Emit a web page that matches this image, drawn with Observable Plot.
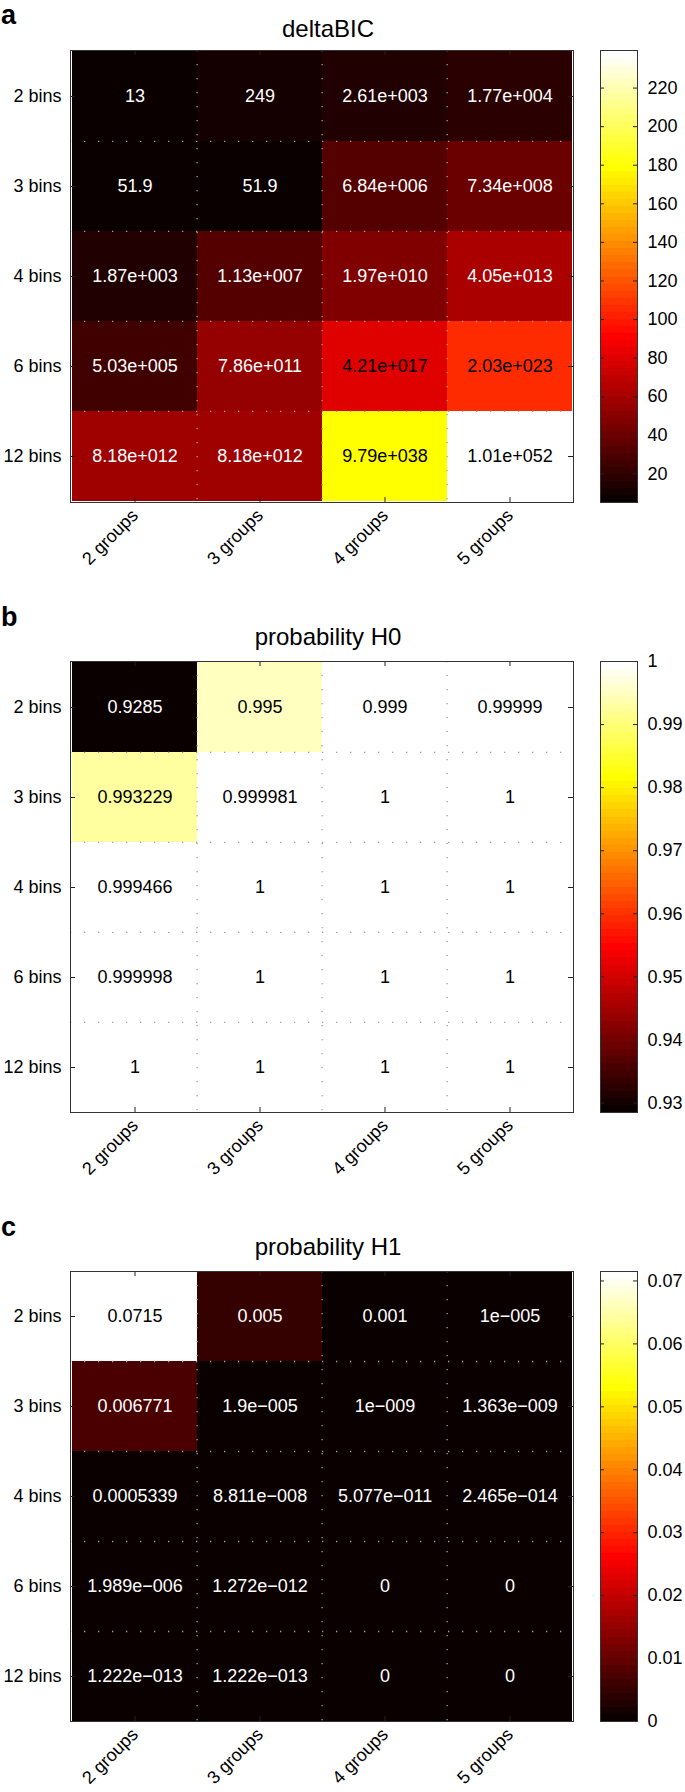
<!DOCTYPE html>
<html><head><meta charset="utf-8">
<script src="https://cdn.jsdelivr.net/npm/d3@7"></script>
<script src="https://cdn.jsdelivr.net/npm/@observablehq/plot@0.6"></script>
<style>
body{margin:0;background:#fff;}
#root{position:relative;width:685px;height:1792px;overflow:hidden;font-family:"Liberation Sans",Arial,Helvetica,sans-serif;color:#000;}
.abs{position:absolute;line-height:1;white-space:nowrap;}
.letter{font-weight:bold;font-size:27px;}
.title{font-size:24px;transform:translateX(-50%);}
svg{position:absolute;}
</style></head><body><div id="root"></div>
<script>
// ---- data ----
const groups = ["2 groups", "3 groups", "4 groups", "5 groups"];
const bins = ["2 bins", "3 bins", "4 bins", "6 bins", "12 bins"];

const deltaBICText = [
  ["13", "249", "2.61e+003", "1.77e+004"],
  ["51.9", "51.9", "6.84e+006", "7.34e+008"],
  ["1.87e+003", "1.13e+007", "1.97e+010", "4.05e+013"],
  ["5.03e+005", "7.86e+011", "4.21e+017", "2.03e+023"],
  ["8.18e+012", "8.18e+012", "9.79e+038", "1.01e+052"]
];
const probH0Text = [
  ["0.9285", "0.995", "0.999", "0.99999"],
  ["0.993229", "0.999981", "1", "1"],
  ["0.999466", "1", "1", "1"],
  ["0.999998", "1", "1", "1"],
  ["1", "1", "1", "1"]
];
const probH1Text = [
  ["0.0715", "0.005", "0.001", "1e-005"],
  ["0.006771", "1.9e-005", "1e-009", "1.363e-009"],
  ["0.0005339", "8.811e-008", "5.077e-011", "2.465e-014"],
  ["1.989e-006", "1.272e-012", "0", "0"],
  ["1.222e-013", "1.222e-013", "0", "0"]
];
const deltaBICTicks = [20, 40, 60, 80, 100, 120, 140, 160, 180, 200, 220];
const probH0Ticks = [0.93, 0.94, 0.95, 0.96, 0.97, 0.98, 0.99, 1];
const probH1Ticks = [0, 0.01, 0.02, 0.03, 0.04, 0.05, 0.06, 0.07];
const panelLetters = ["a", "b", "c"];
const panelTitles = ["deltaBIC", "probability H0", "probability H1"];

// MATLAB "hot" colormap, 64 levels
function hot(t) {
  const m = 64;
  const i = Math.min(m - 1, Math.max(0, Math.floor(t * m))) + 1;
  const r = Math.min(1, i / 24), g = Math.min(1, Math.max(0, (i - 24) / 24)), b = Math.max(0, (i - 48) / 16);
  return `rgb(${Math.round(r * 255)},${Math.round(g * 255)},${Math.round(b * 255)})`;
}

const FONT = '"Liberation Sans", Arial, Helvetica, sans-serif';
const root = document.getElementById("root");

const panels = [
  {text: deltaBICText, colorOf: v => 2 * Math.log(v), ticks: deltaBICTicks, top: 50, h: 452, titleBase: 37, letterBase: 24.5},
  {text: probH0Text, colorOf: v => v, ticks: probH0Ticks, top: 661, h: 451, titleBase: 645, letterBase: 627},
  {text: probH1Text, colorOf: v => v, ticks: probH1Ticks, top: 1271, h: 450, titleBase: 1255, letterBase: 1237}
];

panels.forEach((p, k) => {
  const letter = document.createElement("div");
  letter.className = "abs letter";
  letter.textContent = panelLetters[k];
  letter.style.left = "1px";
  letter.style.top = Math.max(0, p.letterBase - 0.847 * 27) + "px";
  root.appendChild(letter);

  const title = document.createElement("div");
  title.className = "abs title";
  title.textContent = panelTitles[k];
  title.style.left = "328px";
  title.style.top = (p.titleBase - 0.847 * 24) + "px";
  root.appendChild(title);

  const data = [];
  bins.forEach((b, r) => groups.forEach((g, c) => {
    const s = p.text[r][c];
    data.push({bin: b, group: g, label: s.replace(/-/g, "\u2212"), v: p.colorOf(+s)});
  }));
  const domain = d3.extent(data, d => d.v);
  const tOf = d => (d.v - domain[0]) / (domain[1] - domain[0]);
  const W = 590, ML = 70, MR = 17, MT = 10, MB = 90, H = p.h;
  const colW = (W - ML - MR) / groups.length, rowH = H / bins.length;
  const colorScale = {type: "linear", domain, interpolate: hot};
  const gridStyle = {stroke: "#a0a0a0", strokeWidth: 1.3, strokeDasharray: "1.3,12.7", strokeDashoffset: -14};

  const main = Plot.plot({
    width: W, height: MT + H + MB,
    marginLeft: ML, marginRight: MR, marginTop: MT, marginBottom: MB,
    style: {fontSize: "18px", fontFamily: FONT, background: "transparent", overflow: "visible", color: "#000"},
    x: {domain: groups, padding: 0, tickRotate: -45, tickSize: 0, tickPadding: 10, label: null},
    y: {domain: bins, padding: 0, tickSize: 0, tickPadding: 9, label: null},
    color: colorScale,
    marks: [
      Plot.cell(data, {x: "group", y: "bin", fill: "v", inset: 0}),
      Plot.ruleX(groups.slice(1), {x: d => d, dx: -colW / 2, ...gridStyle}),
      Plot.ruleY(bins.slice(1), {y: d => d, dy: -rowH / 2, ...gridStyle}),
      Plot.text(data.filter(d => tOf(d) < 0.27), {x: "group", y: "bin", text: "label", fill: "white", fontSize: 18}),
      Plot.text(data.filter(d => tOf(d) >= 0.27), {x: "group", y: "bin", text: "label", fill: "black", fontSize: 18}),
      Plot.tickX(groups, {x: d => d, insetTop: H - 5, stroke: "#222"}),
      Plot.tickX(groups, {x: d => d, insetBottom: H - 5, stroke: "#222"}),
      Plot.tickY(bins, {y: d => d, insetRight: W - ML - MR - 5, stroke: "#222"}),
      Plot.tickY(bins, {y: d => d, insetLeft: W - ML - MR - 5, stroke: "#222"}),
      Plot.frame({stroke: "#333"})
    ]
  });
  main.style.left = "0px";
  main.style.top = (p.top - MT) + "px";
  root.appendChild(main);

  const n = 64, lo = domain[0], hi = domain[1];
  const bands = d3.range(n).map(i => ({y1: lo + (hi - lo) * i / n, y2: lo + (hi - lo) * (i + 1) / n}));
  const CW = 95, CML = 10, CMR = 48;
  const bar = Plot.plot({
    width: CW, height: H + 20,
    marginLeft: CML, marginRight: CMR, marginTop: 10, marginBottom: 10,
    style: {fontSize: "18px", fontFamily: FONT, background: "transparent", overflow: "visible", color: "#000"},
    y: {domain: [lo, hi], axis: "right", ticks: p.ticks, tickSize: 0, tickPadding: 10, label: null, tickFormat: d => String(d)},
    color: colorScale,
    marks: [
      Plot.rect(bands, {y1: "y1", y2: "y2", fill: d => (d.y1 + d.y2) / 2, stroke: d => (d.y1 + d.y2) / 2, strokeWidth: 0.8, shapeRendering: "crispEdges"}),
      Plot.tickY(p.ticks, {y: d => d, insetRight: CW - CML - CMR - 4, stroke: "#222"}),
      Plot.tickY(p.ticks, {y: d => d, insetLeft: CW - CML - CMR - 4, stroke: "#222"}),
      Plot.frame({stroke: "#333"})
    ]
  });
  bar.style.left = "590px";
  bar.style.top = (p.top - 10) + "px";
  root.appendChild(bar);
});
</script>
</body></html>
